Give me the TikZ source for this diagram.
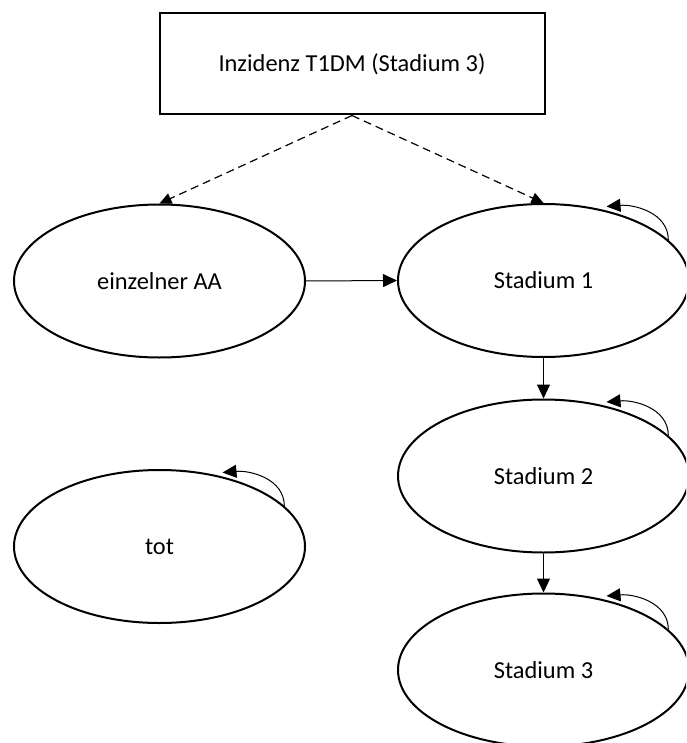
\documentclass[tikz,border=0pt]{standalone}
\usepackage{fontspec}
\setmainfont{Carlito}
\usetikzlibrary{shapes.geometric,arrows.meta}
\begin{document}
\begin{tikzpicture}[x=1pt,y=-1pt,
  state/.style={ellipse,draw,line width=2pt,minimum width=291pt,minimum height=153pt,inner sep=0pt,font=\fontsize{24.4}{28}\selectfont},
  boxnode/.style={rectangle,draw,line width=2pt,minimum width=385pt,minimum height=101pt,inner sep=0pt,font=\fontsize{24.4}{28}\selectfont},
  conn/.style={line width=1pt,-{Triangle[length=14pt,width=13pt]}},
  dconn/.style={line width=1.2pt,dash pattern=on 8pt off 5pt,-{Triangle[length=12pt,width=11pt]}},
  loop/.style={line width=1pt,-{Triangle[length=14pt,width=13pt]}}]
\clip (0,0) rectangle (686,743);
\useasboundingbox (0,0) rectangle (686,743);
\node[boxnode] (box) at (352,64) {Inzidenz T1DM (Stadium 3)};
\node[state] (aa) at (159.5,281) {einzelner AA};
\node[state] (s1) at (543.5,280.5) {Stadium 1};
\node[state] (s2) at (543.5,476) {Stadium 2};
\node[state] (s3) at (543.5,670) {Stadium 3};
\node[state] (tot) at (159.5,546.5) {tot};
\draw[dconn] (box.south) -- (aa.north);
\draw[dconn] (box.south) -- (s1.north);
\draw[conn] (aa.east) -- (s1.west);
\draw[conn] (s1.south) -- (s2.north);
\draw[conn] (s2.south) -- (s3.north);
\foreach \n in {s1,s2,s3,tot}{
  \draw[loop] (\n.18) to[out=90,in=5] ([yshift=4pt]\n.48);
}
\end{tikzpicture}
\end{document}
